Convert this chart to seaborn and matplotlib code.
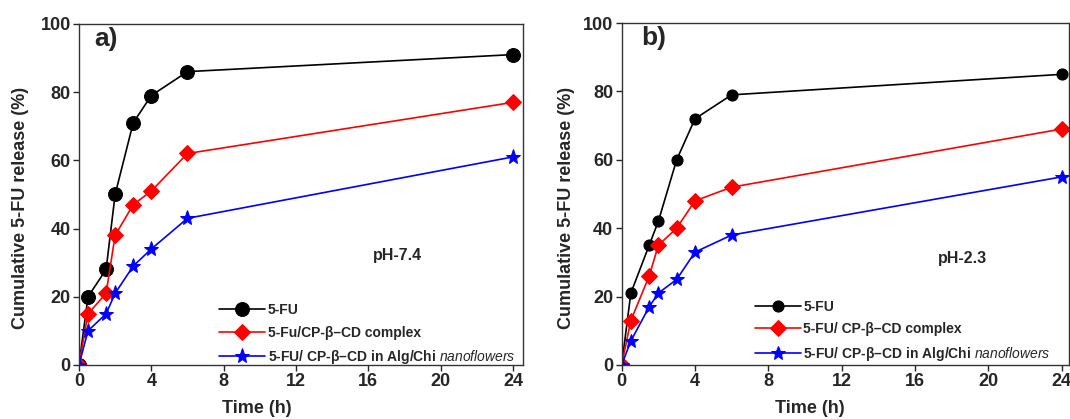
import matplotlib
matplotlib.use("Agg")
import matplotlib.pyplot as plt
import seaborn as sns
import pandas as pd

sns.set_theme(style="ticks")
plt.rcParams["font.family"] = ["Liberation Sans", "DejaVu Sans"]
plt.rcParams["mathtext.fontset"] = "custom"
plt.rcParams["mathtext.it"] = "Liberation Sans:italic"
plt.rcParams["mathtext.rm"] = "Liberation Sans"

# Sampling times (h)
time_h = [0, 0.5, 1.5, 2, 3, 4, 6, 24]

# Cumulative release (%) at pH 7.4
free_74 = [0, 20, 28, 50, 71, 79, 86, 91]
complex_74 = [0, 15, 21, 38, 47, 51, 62, 77]
nano_74 = [0, 10, 15, 21, 29, 34, 43, 61]

# Cumulative release (%) at pH 2.3
free_23 = [0, 21, 35, 42, 60, 72, 79, 85]
complex_23 = [0, 13, 26, 35, 40, 48, 52, 69]
nano_23 = [0, 7, 17, 21, 25, 33, 38, 55]

labels_a = ["5-FU", "5-Fu/CP-β–CD complex",
            "5-FU/ CP-β–CD in Alg/Chi $\\it{nanoflowers}$"]
labels_b = ["5-FU", "5-FU/ CP-β–CD complex",
            "5-FU/ CP-β–CD in Alg/Chi $\\it{nanoflowers}$"]

colors = ["black", "#ff0000", "#0000ff"]
markers = ["o", "D", "*"]

fig = plt.figure(figsize=(10.7, 4.19), dpi=100)
ax_a = fig.add_axes([0.0738, 0.129, 0.415, 0.814])
ax_b = fig.add_axes([0.581, 0.129, 0.418, 0.816])


def draw_panel(ax, series, labels, msizes, panel, panel_x, ph, ph_xy, xmax,
               leg_anchor, xlab_x, ylab_x):
    for vals, lab, c, m, ms in zip(series, labels, colors, markers, msizes):
        df = pd.DataFrame({"t": time_h, "r": vals})
        sns.lineplot(data=df, x="t", y="r", ax=ax, color=c, marker=m,
                     markersize=ms, markeredgecolor=c, linewidth=1.2,
                     label=lab, legend=False)
    ax.set_xlim(0, xmax)
    ax.set_ylim(0, 100)
    ax.set_xticks(range(0, 25, 4))
    ax.set_yticks(range(0, 101, 20))
    ax.tick_params(direction="out", length=4, width=1, labelsize=13,
                   top=False, right=False, pad=2)
    for t in ax.get_xticklabels() + ax.get_yticklabels():
        t.set_fontweight("bold")
    for s in ax.spines.values():
        s.set_linewidth(1.0)
        s.set_color("#333333")
    ax.set_xlabel("Time (h)", fontsize=13, fontweight="bold")
    ax.set_ylabel("Cumulative 5-FU release (%)", fontsize=13,
                  fontweight="bold")
    ax.xaxis.set_label_coords(xlab_x, -0.103)
    ax.yaxis.set_label_coords(ylab_x, 0.46)
    ax.text(panel_x, 0.99, panel, transform=ax.transAxes, fontsize=19,
            fontweight="bold", va="top", ha="left")
    ax.text(ph_xy[0], ph_xy[1], ph, fontsize=11.5, fontweight="bold",
            ha="center", va="center")
    handles, labs = ax.get_legend_handles_labels()
    ax.legend(handles, labs, loc="lower left", bbox_to_anchor=leg_anchor,
              frameon=False, handlelength=3.3, handletextpad=0.2,
              labelspacing=0.62, borderaxespad=0,
              prop={"weight": "bold", "size": 10})


draw_panel(ax_a, [free_74, complex_74, nano_74], labels_a, [10, 8, 11],
           "a)", 0.034, "pH-7.4", (17.6, 32), 24.55, (0.303, -0.02),
           0.40, -0.113)
draw_panel(ax_b, [free_23, complex_23, nano_23], labels_b, [8, 8, 10],
           "b)", 0.043, "pH-2.3", (18.6, 31), 24.4, (0.285, -0.01),
           0.42, -0.105)

fig.savefig("out.png", dpi=100)
